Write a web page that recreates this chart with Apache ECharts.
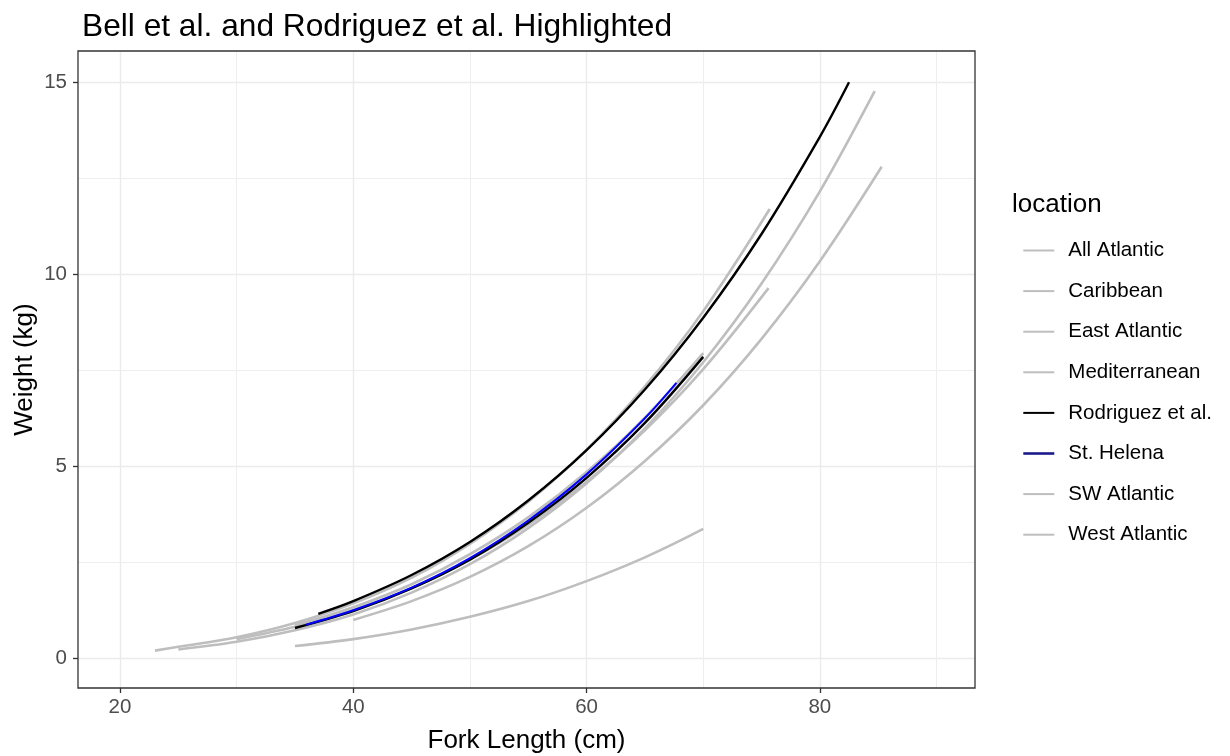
<!DOCTYPE html>
<html>
<head>
<meta charset="utf-8">
<script src="https://cdn.jsdelivr.net/npm/echarts@6/dist/echarts.min.js"></script>
<style>
  html, body { margin: 0; padding: 0; background: #fff; }
  #main { width: 1230px; height: 756px; }
</style>
</head>
<body>
<div id="main"></div>
<script>
// length (cm) / weight (kg) curves
const locations = ['All Atlantic', 'Caribbean', 'East Atlantic', 'Mediterranean',
  'Rodriguez et al.', 'St. Helena', 'SW Atlantic', 'West Atlantic'];

const allAtlLen = [35, 40, 45, 50, 55, 60, 65, 70];
const allAtlWt = [0.86, 1.33, 1.93, 2.71, 3.67, 4.85, 6.27, 7.95];

const caribLen = [35, 40, 45, 50, 55, 60, 65, 70];
const caribWt = [0.32, 0.50, 0.75, 1.08, 1.49, 2.01, 2.63, 3.37];

const eastLen = [25, 30, 35, 40, 45, 50, 55, 60, 65, 70, 75, 80, 84.7];
const eastWt = [0.23, 0.43, 0.73, 1.14, 1.71, 2.45, 3.39, 4.56, 5.99, 7.71, 9.76, 12.16, 14.77];

const medLen = [23, 25, 30, 35, 40, 45, 50, 55, 60, 65, 70, 75.7];
const medWt = [0.20, 0.30, 0.55, 0.92, 1.43, 2.10, 2.98, 4.08, 5.43, 7.08, 9.04, 11.7];

const rodLongLen = [37, 40, 45, 50, 55, 60, 65, 70, 75, 80, 82.5];
const rodLongWt = [1.16, 1.49, 2.17, 3.03, 4.11, 5.42, 7.00, 8.87, 11.05, 13.58, 15.0];

const rodShortLen = [35, 40, 45, 50, 55, 60, 65, 70];
const rodShortWt = [0.79, 1.23, 1.82, 2.57, 3.53, 4.70, 6.13, 7.85];

const helenaLen = [35.9, 40, 45, 50, 55, 60, 65, 67.7];
const helenaWt = [0.87, 1.25, 1.84, 2.61, 3.59, 4.79, 6.25, 7.17];

const swLen = [40, 45, 50, 55, 60, 65, 70, 75, 80, 85.3];
const swWt = [1.00, 1.49, 2.12, 2.92, 3.92, 5.14, 6.59, 8.32, 10.34, 12.8];

const westLen = [30, 35, 40, 45, 50, 55, 60, 65, 70, 75.6];
const westWt = [0.50, 0.82, 1.26, 1.83, 2.57, 3.48, 4.60, 5.94, 7.53, 9.64];

const xMajor = [20, 40, 60, 80];
const xMinor = [30, 50, 70, 90];
const yMajor = [0, 5, 10, 15];
const yMinor = [2.5, 7.5, 12.5];

const GREY = '#BEBEBE';
const TXT = '#4D4D4D';
const FONT = '"Liberation Sans", Arial, sans-serif';

function pairs(xs, ys) {
  return xs.map(function (x, i) { return [x, ys[i]]; });
}

function curve(name, xs, ys, color, width, z) {
  return {
    name: name,
    type: 'line',
    data: pairs(xs, ys),
    smooth: 0.35,
    symbol: 'none',
    showSymbol: false,
    silent: true,
    z: z,
    lineStyle: { color: color, width: width },
    itemStyle: { color: color }
  };
}

const chart = echarts.init(document.getElementById('main'));

const option = {
  backgroundColor: '#fff',
  animation: false,
  title: [
    {
      text: 'Bell et al. and Rodriguez et al. Highlighted',
      left: 77, top: 6,
      textStyle: { fontFamily: FONT, fontSize: 31.7, fontWeight: 'normal', color: '#000' }
    },
    {
      text: 'location',
      left: 1007, top: 187,
      textStyle: { fontFamily: FONT, fontSize: 26, fontWeight: 'normal', color: '#000' }
    }
  ],
  legend: {
    orient: 'vertical',
    left: 1017, top: 235,
    itemWidth: 31, itemHeight: 20, itemGap: 19.6,
    itemStyle: { opacity: 0 },
    textStyle: { fontFamily: FONT, fontSize: 20.5, color: '#000', padding: [0, 0, 0, 9], lineHeight: 20 },
    data: locations.map(function (n) {
      return n === 'St. Helena' ? { name: n, lineStyle: { color: '#1A1A8C', width: 2.6 } } : { name: n };
    })
  },
  grid: {
    left: 78, top: 51, width: 897, height: 637,
    outerBoundsMode: 'none', containLabel: false,
    show: true, borderColor: '#333', borderWidth: 1.3, backgroundColor: 'transparent', z: 10
  },
  xAxis: [
    {
      type: 'value', min: 16.4, max: 93.3,
      name: 'Fork Length (cm)', nameLocation: 'middle', nameGap: 40, nameMoveOverlap: false,
      nameTextStyle: { fontFamily: FONT, fontSize: 26, color: '#000' },
      axisLine: { show: false, onZero: false },
      axisTick: { show: true, customValues: xMajor, length: 5, lineStyle: { color: '#333', width: 1.3 } },
      axisLabel: { customValues: xMajor, margin: 9, fontFamily: FONT, fontSize: 20.5, color: TXT },
      splitLine: { show: true, lineStyle: { color: '#EBEBEB', width: 1.4 } }
    },
    {
      type: 'value', min: 16.4, max: 93.3, position: 'bottom',
      axisLine: { show: false, onZero: false },
      axisTick: { show: false, customValues: xMinor },
      axisLabel: { show: false, customValues: xMinor },
      splitLine: { show: true, lineStyle: { color: '#EEEEEE', width: 1 } }
    }
  ],
  yAxis: [
    {
      type: 'value', min: -0.773, max: 15.815,
      name: 'Weight (kg)', nameLocation: 'middle', nameGap: 40, nameRotate: 90, nameMoveOverlap: false,
      nameTextStyle: { fontFamily: FONT, fontSize: 26, color: '#000' },
      axisLine: { show: false, onZero: false },
      axisTick: { show: true, customValues: yMajor, length: 5, lineStyle: { color: '#333', width: 1.3 } },
      axisLabel: { customValues: yMajor, margin: 11, fontFamily: FONT, fontSize: 20.5, color: TXT },
      splitLine: { show: true, lineStyle: { color: '#EBEBEB', width: 1.4 } }
    },
    {
      type: 'value', min: -0.773, max: 15.815, position: 'left',
      axisLine: { show: false, onZero: false },
      axisTick: { show: false, customValues: yMinor },
      axisLabel: { show: false, customValues: yMinor },
      splitLine: { show: true, lineStyle: { color: '#EEEEEE', width: 1 } }
    }
  ],
  series: [
    curve('All Atlantic', allAtlLen, allAtlWt, GREY, 2.6, 2),
    curve('Caribbean', caribLen, caribWt, GREY, 2.6, 2),
    curve('East Atlantic', eastLen, eastWt, GREY, 2.6, 2),
    curve('Mediterranean', medLen, medWt, GREY, 2.6, 2),
    curve('SW Atlantic', swLen, swWt, GREY, 2.6, 2),
    curve('West Atlantic', westLen, westWt, GREY, 2.6, 2),
    curve('Rodriguez et al.', rodLongLen, rodLongWt, '#000', 2.4, 3),
    curve('Rodriguez et al.', rodShortLen, rodShortWt, '#000', 2.4, 3),
    curve('St. Helena', helenaLen, helenaWt, '#0000FF', 2, 4)
  ]
};

chart.setOption(option);
</script>
</body>
</html>
